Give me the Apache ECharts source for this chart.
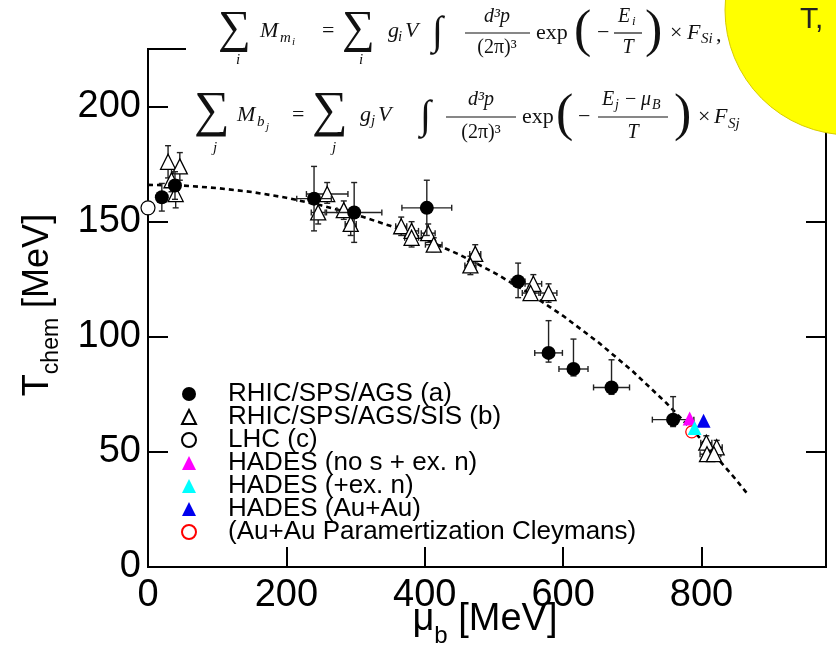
<!DOCTYPE html>
<html><head><meta charset="utf-8">
<script src="https://cdn.jsdelivr.net/npm/echarts@6/dist/echarts.min.js"></script>
<style>html,body{margin:0;padding:0;background:#fff}#c{width:836px;height:655px}</style>
</head><body><div id="c"></div>
<script>
const seriesNames = ['RHIC/SPS/AGS (a)','RHIC/SPS/AGS/SIS (b)','LHC (c)','HADES (no s + ex. n)','HADES (+ex. n)','HADES (Au+Au)','(Au+Au Paramertization Cleymans)'];
const xTicks = [0,200,400,600,800];
const yTicks = [0,50,100,150,200];
// [mu_B, T, muErr, TErrLow, TErrHigh]
const rhicA = [
 [20,160.6,0,6,6],[39,165.7,0,6,6],[240,160,25,14,14],[298,154,40,13,13],[403,156,36,12,12],
 [535,124,10,7,8],[579,93,20,4,14],[615,86,21,3,13],[670,78,26,3,12],[759,64,30,3,10]
];
const rhicB = [
 [29,176,0,7,7],[46,174,0,6,6],[34,168,0,5,5],[40,162,0,6,6],
 [259,162,30,4,5],[246,154,10,5,5],[283,155,10,4,4],[293,149,8,5,5],
 [366,148,8,4,4],[381,146,10,4,4],[381,143,10,4,4],[405,145,10,4,4],[413,140,12,3,3],
 [473,136,8,4,4],[466,131,8,4,4],
 [557,123,12,4,4],[553,119,12,3,3],[579,119,12,4,4],
 [807,54,8,3,3],[822,52,8,3,3],[808,49,10,2,2],[818,49,10,2,2]
];
const lhc = [[0,156]];
const hadesNoS = [[783,64.5]];
const hadesEx = [[790,60.4]];
const hadesAuAu = [[803,63.5]];
const cleymansPt = [[786,58.7]];
const fitMu = [0,50,100,150,200,250,300,350,400,450,500,550,600,650,700,750,800,850,865];
const fitT  = [166,165.7,164.6,162.9,160.4,157.1,153.1,148.2,142.4,135.7,127.9,119.1,109.1,97.8,85.2,71.0,55.3,37.9,32.3];

const SANS = '"Liberation Sans", Arial, sans-serif';
const SERIF = '"Liberation Serif","DejaVu Serif",serif';

function errRender(params, api){
  const x=api.value(0), y=api.value(1), dx=api.value(2), lo=api.value(3), hi=api.value(4);
  const st={stroke:'#222', lineWidth:1.4};
  const ch=[]; const cap=3;
  if(lo>0||hi>0){
    const t=api.coord([x,y+hi]), b=api.coord([x,y-lo]);
    ch.push({type:'line',shape:{x1:t[0],y1:t[1],x2:b[0],y2:b[1]},style:st});
    ch.push({type:'line',shape:{x1:t[0]-cap,y1:t[1],x2:t[0]+cap,y2:t[1]},style:st});
    ch.push({type:'line',shape:{x1:b[0]-cap,y1:b[1],x2:b[0]+cap,y2:b[1]},style:st});
  }
  if(dx>0){
    const l=api.coord([x-dx,y]), r=api.coord([x+dx,y]);
    ch.push({type:'line',shape:{x1:l[0],y1:l[1],x2:r[0],y2:r[1]},style:st});
    ch.push({type:'line',shape:{x1:l[0],y1:l[1]-cap,x2:l[0],y2:l[1]+cap},style:st});
    ch.push({type:'line',shape:{x1:r[0],y1:r[1]-cap,x2:r[0],y2:r[1]+cap},style:st});
  }
  return {type:'group',children:ch};
}

function T(x,y,text,size,italic,align){
  return {type:'text',x:x,y:y,z:101,style:{text:text,font:(italic?'italic ':'')+size+'px '+SERIF,fill:'#111',align:align||'left',verticalAlign:'middle'}};
}
function L(x1,y1,x2,y2){return {type:'line',z:101,shape:{x1,y1,x2,y2},style:{stroke:'#111',lineWidth:1.2}};}

const formula = [
  {type:'rect',z:100,shape:{x:186,y:0,width:574,height:157},style:{fill:'#fff'}},
  // line 1
  T(218,30,'∑',46), T(238,60,'i',15,true,'center'),
  T(260,31,'M',22,true), T(280,38,'m',15,true), T(292,42,'i',11,true),
  T(322,31,'=',22),
  T(342,30,'∑',46), T(361,60,'i',15,true,'center'),
  T(388,31,'g',22,true), T(398,37,'i',15,true), T(405,31,'V',22,true),
  T(432,33,'∫',40,true),
  T(497,17,'d³p',20,true,'center'), L(465,33,530,33), T(497,48,'(2π)³',20,false,'center'),
  T(536,33,'exp',22),
  T(574,32,'(',52), T(597,33,'−',22),
  T(624,17,'E',20,true,'center'), T(632,22,'i',13,true), L(614,33,642,33), T(628,48,'T',20,true,'center'),
  T(645,32,')',52), T(670,33,'×',22),
  T(687,33,'F',22,true), T(701,39,'Si',15,true), T(716,35,',',22),
  // line 2
  T(194,113,'∑',50), T(215,148,'j',15,true,'center'),
  T(237,115,'M',22,true), T(257,122,'b',15,true), T(266,127,'j',11,true),
  T(292,115,'=',22),
  T(312,113,'∑',50), T(334,148,'j',15,true,'center'),
  T(360,115,'g',22,true), T(371,121,'j',15,true), T(378,115,'V',22,true),
  T(420,117,'∫',40,true),
  T(481,100,'d³p',20,true,'center'), L(446,117,516,117), T(481,133,'(2π)³',20,false,'center'),
  T(522,117,'exp',22),
  T(556,116,'(',52), T(578,117,'−',22),
  T(602,100,'E',20,true), T(615,105,'j',14,true), T(625,100,'−',20), T(641,100,'μ',20,true), T(652,105,'B',14,true),
  L(598,117,668,117), T(633,133,'T',20,true,'center'),
  T(674,116,')',52), T(698,117,'×',22),
  T(714,117,'F',22,true), T(728,124,'Sj',15,true),
  // yellow circle
  {type:'circle',z:110,shape:{cx:850,cy:10,r:125},style:{fill:'#ffff00',stroke:'#d8cc00',lineWidth:1}},
  {type:'text',z:111,x:800,y:20,style:{text:'T,',font:'30px '+SANS,fill:'#222',verticalAlign:'middle'}},
  // axis titles
  {type:'text',z:50,x:38,y:305,rotation:Math.PI/2,style:{
    text:'{m|T}{s|chem}{m| [MeV]}',align:'center',verticalAlign:'middle',
    rich:{m:{font:'36px '+SANS,fill:'#000',lineHeight:46},s:{font:'23px '+SANS,fill:'#000',verticalAlign:'bottom',height:18}}}},
  {type:'text',z:50,x:485,y:620,style:{
    text:'{m|μ}{s|b}{m| [MeV]}',align:'center',verticalAlign:'middle',
    rich:{m:{font:'38px '+SANS,fill:'#000',lineHeight:46},s:{font:'24px '+SANS,fill:'#000',verticalAlign:'bottom',height:14}}}}
];

const chart = echarts.init(document.getElementById('c'),null,{renderer:'canvas'});
const fitData = fitMu.map((m,i)=>[m,fitT[i]]);
chart.setOption({
  animation:false,
  backgroundColor:'#fff',
  grid:{left:148,right:10,top:49,bottom:88,show:true,borderColor:'#000',borderWidth:2,backgroundColor:'transparent'},
  xAxis:{type:'value',min:0,max:980,interval:200,
    axisLine:{show:false},splitLine:{show:false},
    axisTick:{show:true,inside:true,length:20,lineStyle:{color:'#000',width:2}},
    axisLabel:{fontSize:38,fontFamily:SANS,color:'#000',margin:10,
      formatter:v=>xTicks.indexOf(v)>=0?String(v):''}},
  yAxis:[{type:'value',min:0,max:225,interval:50,position:'left',
    axisLine:{show:false},splitLine:{show:false},
    axisTick:{show:true,inside:true,length:20,lineStyle:{color:'#000',width:2}},
    axisLabel:{fontSize:38,fontFamily:SANS,color:'#000',margin:7,
      formatter:v=>yTicks.indexOf(v)>=0?String(v):''}},
   {type:'value',min:0,max:225,interval:50,position:'right',
    axisLine:{show:false},splitLine:{show:false},
    axisTick:{show:true,inside:true,length:20,lineStyle:{color:'#000',width:2}},
    axisLabel:{show:false}}],
  legend:{left:181,top:381,orient:'vertical',padding:0,itemGap:-3,itemWidth:14,itemHeight:14,
    data:seriesNames,
    textStyle:{fontSize:26,fontFamily:SANS,color:'#000',lineHeight:23,padding:[0,0,0,27]}},
  graphic:formula,
  series:[
    {type:'line',name:'fit',data:fitData,showSymbol:false,symbol:'none',z:1,
      lineStyle:{color:'#000',width:2.6,type:[5,4]}},
    {type:'custom',name:'errB',data:rhicB,renderItem:errRender,encode:{x:0,y:1},z:2},
    {type:'scatter',name:seriesNames[1],data:rhicB,symbol:'triangle',symbolSize:15,z:3,
      itemStyle:{color:'#fff',borderColor:'#000',borderWidth:1.3,opacity:1}},
    {type:'custom',name:'errA',data:rhicA,renderItem:errRender,encode:{x:0,y:1},z:4},
    {type:'scatter',name:seriesNames[0],data:rhicA,symbol:'circle',symbolSize:14,z:5,
      itemStyle:{color:'#000',opacity:1}},
    {type:'scatter',name:seriesNames[2],data:lhc,symbol:'circle',symbolSize:14,z:5,
      itemStyle:{color:'#fff',borderColor:'#000',borderWidth:1.2,opacity:1}},
    {type:'scatter',name:seriesNames[3],data:hadesNoS,symbol:'triangle',symbolSize:14,z:6,
      itemStyle:{color:'#ff00ff',opacity:1}},
    {type:'scatter',name:seriesNames[5],data:hadesAuAu,symbol:'triangle',symbolSize:14,z:6,
      itemStyle:{color:'#0000ee',opacity:1}},
    {type:'scatter',name:seriesNames[6],data:cleymansPt,symbol:'circle',symbolSize:12,z:6,
      itemStyle:{color:'#fff',borderColor:'#ff0000',borderWidth:1.3,opacity:1}},
    {type:'scatter',name:seriesNames[4],data:hadesEx,symbol:'triangle',symbolSize:14,z:7,
      itemStyle:{color:'#00ffff',opacity:1}}
  ]
});
</script></body></html>
